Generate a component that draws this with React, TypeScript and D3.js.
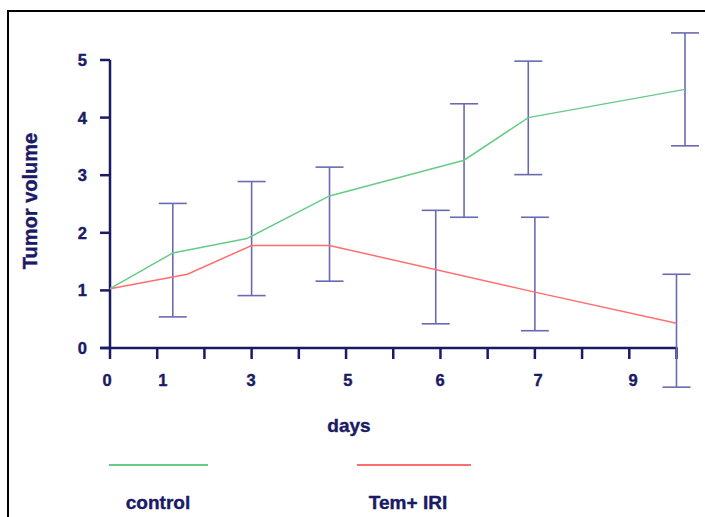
import React from 'react';
import * as d3 from 'd3';

// positions are in axis tick units (13 evenly spaced ticks, 0..12)
const controlX = [0, 1.33, 2.9, 4.65, 7.5, 8.86, 12.18];
const controlY = [1.03, 1.65, 1.9, 2.64, 3.26, 4.0, 4.49];

const temX = [0, 1.64, 3.0, 4.65, 9.0, 12.0];
const temY = [1.03, 1.28, 1.78, 1.78, 0.97, 0.43];

const errX = [1.33, 3.0, 4.65, 6.9, 7.5, 8.86, 9.0, 12.0, 12.18];
const errLo = [0.54, 0.91, 1.16, 0.42, 2.27, 3.01, 0.3, -0.68, 3.51];
const errHi = [2.51, 2.89, 3.14, 2.39, 4.24, 4.98, 2.27, 1.28, 5.47];

const yTicks = [0, 1, 2, 3, 4, 5];
const xTickPos = [0, 1, 2, 3, 4, 5, 6, 7, 8, 9, 10, 11, 12];
const xLabelPos = [-0.06, 1.12, 2.99, 5.04, 6.99, 9.07, 11.08];
const xLabels = ['0', '1', '3', '5', '6', '7', '9'];

const navy = '#1a1a66';
const green = '#66cc88';
const red = '#ff6e6e';
const errColor = '#6a6ab4';
const font = 'Liberation Sans, Arial, sans-serif';

export default function App() {
  const x = d3.scaleLinear().domain([0, 12]).range([110, 676.5]);
  const y = d3.scaleLinear().domain([0, 5]).range([348, 60]);

  const line = d3
    .line<[number, number]>()
    .x(d => x(d[0]))
    .y(d => y(d[1]));

  const controlPts = controlX.map((v, i) => [v, controlY[i]] as [number, number]);
  const temPts = temX.map((v, i) => [v, temY[i]] as [number, number]);
  const cap = 14;

  return (
    <svg
      width={705}
      height={517}
      style={{ position: 'absolute', left: 0, top: 0, background: '#fff' }}
      fontFamily={font}
    >
      {/* frame */}
      <line x1={8} x2={8} y1={11} y2={517} stroke="#000" strokeWidth={2} />
      <line x1={7} x2={705} y1={11} y2={11} stroke="#000" strokeWidth={2} />

      {/* axes */}
      <g stroke={navy} strokeWidth={2.5}>
        <line x1={x(0)} x2={x(0)} y1={y(5)} y2={y(0) + 1} />
        <line x1={x(0) - 10} x2={x(12) + 1} y1={y(0)} y2={y(0)} />
        {yTicks.map(t => (
          <line key={'yt' + t} x1={x(0) - 10} x2={x(0)} y1={y(t)} y2={y(t)} />
        ))}
        {xTickPos.map(t => (
          <line key={'xt' + t} x1={x(t)} x2={x(t)} y1={y(0)} y2={y(0) + 11} />
        ))}
      </g>
      <g fill={navy} fontWeight="bold" fontSize={16.5} stroke={navy} strokeWidth={0.4}>
        {yTicks.map(t => (
          <text key={'yl' + t} x={87} y={y(t)} dy="0.36em" textAnchor="end">
            {t}
          </text>
        ))}
        {xLabels.map((l, i) => (
          <text key={'xl' + i} x={x(xLabelPos[i])} y={386} textAnchor="middle">
            {l}
          </text>
        ))}
      </g>
      <g fill={navy} fontWeight="bold" stroke={navy} strokeWidth={0.4}>
        <text x={349} y={432} fontSize={19} textAnchor="middle">days</text>
        <text transform="translate(37,201) rotate(-90)" fontSize={20} textAnchor="middle">
          Tumor volume
        </text>
        <text x={158} y={509} fontSize={19} textAnchor="middle">control</text>
        <text x={408} y={509} fontSize={19} textAnchor="middle">Tem+ IRI</text>
      </g>

      {/* error bars */}
      <g stroke={errColor} strokeWidth={1.6}>
        {errX.map((v, i) => (
          <g key={'e' + i}>
            <line x1={x(v)} x2={x(v)} y1={y(errLo[i])} y2={y(errHi[i])} />
            <line x1={x(v) - cap} x2={x(v) + cap} y1={y(errLo[i])} y2={y(errLo[i])} />
            <line x1={x(v) - cap} x2={x(v) + cap} y1={y(errHi[i])} y2={y(errHi[i])} />
          </g>
        ))}
      </g>

      {/* series */}
      <path d={line(temPts) || ''} fill="none" stroke={red} strokeWidth={1.5} />
      <path d={line(controlPts) || ''} fill="none" stroke={green} strokeWidth={1.5} />

      {/* legend */}
      <line x1={109} x2={208} y1={465} y2={465} stroke={green} strokeWidth={2.2} />
      <line x1={357} x2={471} y1={465} y2={465} stroke={red} strokeWidth={2.2} />
    </svg>
  );
}
